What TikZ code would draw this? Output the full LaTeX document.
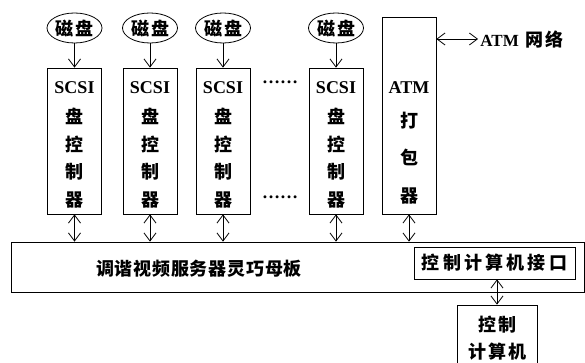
\documentclass[tikz,border=0pt]{standalone}
\usepackage{fontspec}
\setmainfont{Liberation Serif}
\newfontfamily\cjk{Noto Sans CJK SC}
\usetikzlibrary{arrows.meta,shapes.geometric}
\newcommand\gapa{\kern2pt}
\newcommand\gapb{\kern3.2pt}
\newcommand\gapc{\kern0.8pt}
\begin{document}
\begin{tikzpicture}[x=1pt,y=-1pt,
  line width=0.8pt,
  tip/.style={-{Straight Barb[length=8pt,width=12pt]}},
  dtip/.style={{Straight Barb[length=8pt,width=12pt]}-{Straight Barb[length=8pt,width=12pt]}},
  disk/.style={draw,ellipse,minimum width=55pt,minimum height=30pt,inner sep=0pt},
  box/.style={draw,rectangle,inner sep=0pt},
  lat/.style={font=\fontsize{18}{18}\selectfont\bfseries},
  zh/.style={font=\fontsize{18}{18}\selectfont\cjk\bfseries},
]
\useasboundingbox (0,0) rectangle (585,363);
% disks
\foreach \n/\x in {1/74.5,2/150,3/223,4/336}{
  \node[disk,zh] (d\n) at (\x,28) {磁\gapa 盘};
}
% SCSI boxes
\foreach \n/\x in {1/74.5,2/150,3/223,4/336}{
  \node[box,minimum width=54pt,minimum height=146pt] (s\n) at (\x,141) {};
  \node[lat] (s\n t1) at (\x,88) {SCSI};
  \node[zh] (s\n t2) at (\x,116) {盘};
  \node[zh] (s\n t3) at (\x,144) {控};
  \node[zh] (s\n t4) at (\x,172) {制};
  \node[zh] (s\n t5) at (\x,200) {器};
  \draw[tip] (d\n) -- (s\n);
}
% ATM packer
\node[box,minimum width=54pt,minimum height=197pt] (atm) at (409,115.5) {};
\node[lat] (atmt1) at (409,88) {ATM};
\node[zh] (atmt2) at (409,121) {打};
\node[zh] (atmt3) at (409,157) {包};
\node[zh] (atmt4) at (409,196) {器};
% dots
\node[lat] (dots1) at (280,82) {……};
\node[lat] (dots2) at (280,197) {……};
% ATM network
\coordinate (net) at (478,39);
\node[anchor=west,inner sep=0pt,font=\fontsize{17}{17}\selectfont\bfseries] (nett) at (480,40) {ATM\hspace{7pt}{\cjk\fontsize{18}{18}\selectfont 网\gapa 络}};
\draw[dtip] (atm.east |- net) -- (net);
% bus
\node[box,minimum width=573pt,minimum height=50pt] (bus) at (297.5,267) {};
\node[zh] (bust) at (199,269) {调\gapc 谐\gapc 视\gapc 频\gapc 服\gapc 务\gapc 器\gapc 灵\gapc 巧\gapc 母\gapc 板};
\foreach \n/\x in {1/74.5,2/150,3/223,4/336}{
  \draw[dtip] (s\n.south) -- (s\n.south |- bus.north);
}
\draw[dtip] (atm.south) -- (atm.south |- bus.north);
% interface
\node[box,minimum width=161pt,minimum height=32pt,zh] (ifc) at (494.5,263) {控\gapb 制\gapb 计\gapb 算\gapb 机\gapb 接\gapb 口};
% control computer
\node[box,minimum width=80pt,minimum height=60pt] (pc) at (497,335) {};
\node[zh] (pct1) at (497,325) {控\gapa 制};
\node[zh] (pct2) at (497,352) {计\gapa 算\gapa 机};
\draw[dtip] (ifc.south -| pc.north) -- (pc.north);
\end{tikzpicture}
\end{document}
